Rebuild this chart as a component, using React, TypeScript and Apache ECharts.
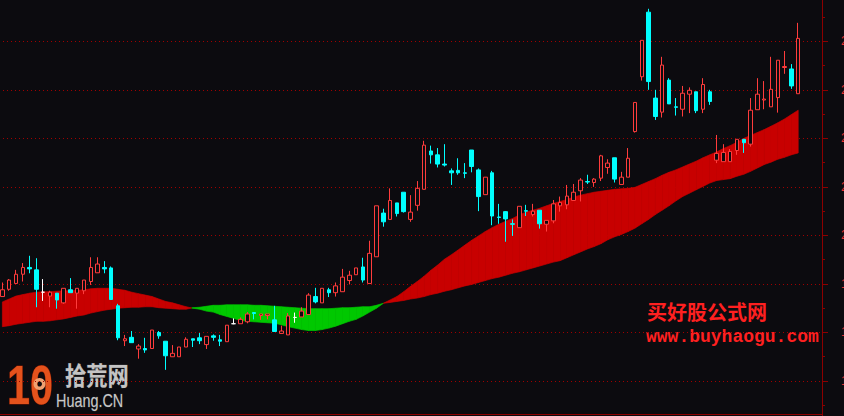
import React, { useEffect, useRef } from "react";
import * as echarts from "echarts";

const BG = "#0c0b0f";
const UP = "#ff3c3c";
const DOWN = "#00ffff";
const BAND_UP = "#c80000";
const BAND_DOWN = "#00c800";
const AXIS = "#8c0000";
const GRID = "#a00000";
const LABEL = "#e83030";

// trading sessions (118 drawn + 3 empty slots on the right)
const sessions: string[] = Array.from({ length: 121 }, (_, i) => `T${i + 1}`);

// price axis
const yMin = 16;
const yMax = 25;
const yStep = 1;

// [open, close, low, high]
const ohlc: number[][] = [
  [18.74, 18.88, 18.74, 19.03], [18.89, 19.08, 18.86, 19.10], [19.01, 19.20, 19.01, 19.29], [19.20, 19.34, 19.05, 19.43],
  [19.34, 19.31, 19.22, 19.58], [19.29, 18.89, 18.52, 19.53], [18.83, 18.83, 18.65, 19.10], [18.75, 18.83, 18.52, 18.86],
  [18.81, 18.67, 18.49, 18.81], [18.61, 18.91, 18.59, 18.91], [18.88, 18.82, 18.82, 19.12], [18.81, 18.91, 18.49, 18.91],
  [18.86, 19.08, 18.79, 19.08], [19.05, 19.34, 18.98, 19.55], [19.23, 19.41, 19.23, 19.55], [19.34, 19.31, 19.22, 19.47],
  [19.33, 18.68, 18.68, 19.36], [18.55, 17.89, 17.84, 18.59], [17.83, 17.87, 17.72, 17.95], [17.90, 17.79, 17.79, 18.03],
  [17.66, 17.72, 17.46, 17.76], [17.67, 17.64, 17.58, 17.89], [17.67, 18.05, 17.67, 18.05], [18.00, 17.93, 17.87, 18.03],
  [17.82, 17.52, 17.23, 17.82], [17.50, 17.57, 17.50, 17.74], [17.50, 17.70, 17.50, 17.70], [17.70, 17.86, 17.70, 17.90],
  [17.87, 17.84, 17.70, 17.87], [17.89, 17.83, 17.76, 17.99], [17.75, 17.92, 17.66, 17.92], [17.93, 17.90, 17.83, 17.96],
  [17.85, 17.82, 17.72, 17.95], [17.81, 18.15, 17.81, 18.15], [18.18, 18.18, 18.17, 18.29], [18.18, 18.27, 18.18, 18.31],
  [18.22, 18.38, 18.19, 18.42], [18.41, 18.39, 18.27, 18.42], [18.35, 18.38, 18.26, 18.38], [18.35, 18.38, 18.27, 18.38],
  [18.26, 18.02, 18.02, 18.55], [17.98, 18.03, 17.98, 18.14], [17.95, 18.34, 17.95, 18.40], [18.31, 18.31, 18.20, 18.41],
  [18.32, 18.44, 18.32, 18.52], [18.37, 18.77, 18.37, 18.81], [18.74, 18.63, 18.60, 18.92], [18.61, 18.91, 18.61, 18.91],
  [18.88, 18.82, 18.73, 18.92], [18.82, 18.96, 18.74, 19.03], [18.84, 19.14, 18.84, 19.31], [19.07, 19.18, 18.99, 19.27],
  [19.19, 19.33, 19.19, 19.33], [19.35, 19.08, 19.03, 19.54], [19.01, 19.63, 19.01, 19.89], [19.56, 20.61, 19.56, 20.61],
  [20.46, 20.28, 20.18, 20.55], [20.33, 20.72, 20.33, 20.97], [20.67, 20.45, 20.39, 20.67], [20.89, 20.49, 20.47, 20.89],
  [20.33, 20.48, 20.28, 20.83], [20.62, 20.97, 20.51, 21.12], [20.95, 21.86, 20.95, 21.95], [21.74, 21.66, 21.48, 21.85],
  [21.66, 21.47, 21.40, 21.80], [21.47, 21.45, 21.42, 21.88], [21.33, 21.29, 21.04, 21.38], [21.34, 21.29, 21.25, 21.59],
  [21.29, 21.28, 21.18, 21.49], [21.76, 21.42, 21.30, 21.76], [21.35, 20.80, 20.50, 21.38], [20.84, 21.20, 20.84, 21.20],
  [21.29, 20.40, 20.21, 21.33], [20.38, 20.37, 20.24, 20.65], [20.49, 20.34, 19.87, 20.50], [20.24, 20.23, 19.99, 20.33],
  [20.16, 20.60, 20.16, 20.60], [20.51, 20.50, 20.40, 20.63], [20.43, 20.50, 20.39, 20.65], [20.52, 20.24, 20.14, 20.52],
  [20.23, 20.31, 20.08, 20.31], [20.30, 20.65, 20.25, 20.73], [20.61, 20.68, 20.49, 20.80], [20.63, 20.81, 20.54, 21.04],
  [20.72, 20.89, 20.72, 21.06], [20.92, 21.14, 20.70, 21.18], [21.11, 21.10, 21.06, 21.25], [21.09, 21.16, 21.00, 21.18],
  [21.18, 21.64, 21.12, 21.66], [21.40, 21.49, 21.27, 21.57], [21.60, 21.16, 21.09, 21.60], [21.05, 21.20, 21.05, 21.31],
  [21.20, 21.59, 21.20, 21.80], [22.14, 22.74, 22.12, 22.74], [23.27, 24.02, 23.19, 24.02], [24.60, 23.17, 23.00, 24.67],
  [22.83, 22.45, 22.38, 23.00], [22.54, 23.51, 22.43, 23.68], [23.20, 22.71, 22.71, 23.24], [22.65, 22.64, 22.47, 22.83],
  [22.60, 22.93, 22.45, 23.08], [22.91, 22.99, 22.52, 23.05], [22.96, 22.57, 22.52, 22.96], [22.60, 23.11, 22.52, 23.24],
  [22.96, 22.76, 22.69, 23.00], [21.55, 21.69, 21.49, 22.07], [21.52, 21.71, 21.52, 21.88], [21.52, 21.73, 21.52, 21.78],
  [21.75, 21.98, 21.66, 21.98], [21.98, 21.91, 21.70, 21.98], [21.88, 22.58, 21.83, 22.83], [22.59, 22.91, 22.59, 23.24],
  [22.79, 22.81, 22.60, 23.18], [22.65, 23.01, 22.65, 23.68], [22.84, 23.61, 22.53, 23.61], [23.46, 23.48, 23.33, 23.80],
  [23.43, 23.08, 23.02, 23.53], [22.92, 24.06, 22.92, 24.38],
];

// sessions drawn as white crosses (open == close)
const whiteDoji: number[] = [6, 34, 43];

// fast moving average (band edge)
const fastMA: number[] = [
  18.63, 18.69, 18.75, 18.78, 18.81, 18.83, 18.84, 18.84, 18.85, 18.86,
  18.86, 18.87, 18.88, 18.90, 18.91, 18.91, 18.91, 18.89, 18.87, 18.83,
  18.80, 18.77, 18.74, 18.69, 18.64, 18.61, 18.57, 18.53, 18.50, 18.48,
  18.44, 18.42, 18.37, 18.33, 18.29, 18.25, 18.23, 18.22, 18.21, 18.20,
  18.19, 18.16, 18.12, 18.09, 18.06, 18.04, 18.04, 18.06, 18.09, 18.13,
  18.18, 18.23, 18.27, 18.34, 18.42, 18.50, 18.60, 18.67, 18.74, 18.84,
  18.95, 19.05, 19.16, 19.28, 19.39, 19.51, 19.60, 19.70, 19.80, 19.90,
  19.99, 20.08, 20.16, 20.23, 20.29, 20.35, 20.42, 20.48, 20.52, 20.56,
  20.61, 20.66, 20.70, 20.74, 20.79, 20.83, 20.86, 20.89, 20.91, 20.93,
  20.95, 20.96, 20.97, 20.99, 21.05, 21.11, 21.17, 21.24, 21.30, 21.35,
  21.41, 21.47, 21.53, 21.60, 21.66, 21.72, 21.79, 21.85, 21.92, 22.00,
  22.06, 22.12, 22.18, 22.25, 22.32, 22.40, 22.49, 22.58,
];

// slow moving average (band edge)
const slowMA: number[] = [
  18.12, 18.14, 18.17, 18.19, 18.21, 18.23, 18.23, 18.24, 18.26, 18.28,
  18.31, 18.34, 18.36, 18.40, 18.43, 18.46, 18.48, 18.50, 18.51, 18.52,
  18.52, 18.53, 18.53, 18.51, 18.50, 18.49, 18.48, 18.48, 18.51, 18.52,
  18.54, 18.56, 18.56, 18.57, 18.57, 18.57, 18.57, 18.56, 18.56, 18.55,
  18.54, 18.53, 18.52, 18.51, 18.50, 18.49, 18.49, 18.49, 18.49, 18.50,
  18.51, 18.51, 18.52, 18.53, 18.53, 18.56, 18.60, 18.62, 18.64, 18.66,
  18.69, 18.71, 18.74, 18.78, 18.81, 18.85, 18.88, 18.92, 18.96, 18.99,
  19.03, 19.07, 19.11, 19.14, 19.18, 19.22, 19.25, 19.29, 19.33, 19.37,
  19.41, 19.45, 19.48, 19.54, 19.60, 19.66, 19.72, 19.77, 19.83, 19.91,
  19.97, 20.02, 20.08, 20.15, 20.24, 20.33, 20.43, 20.52, 20.61, 20.71,
  20.80, 20.87, 20.94, 21.01, 21.08, 21.13, 21.15, 21.17, 21.22, 21.26,
  21.32, 21.39, 21.46, 21.51, 21.57, 21.61, 21.66, 21.70,
];

export default function App() {
  const ref = useRef<HTMLDivElement>(null);

  useEffect(() => {
    document.body.style.margin = "0";
    document.body.style.background = BG;
    if (!ref.current) return;
    const chart = echarts.init(ref.current, null, { renderer: "svg", width: 844, height: 416 });

    const candleData = ohlc.map((v, i) =>
      whiteDoji.includes(i)
        ? {
            value: v,
            itemStyle: {
              color: "#ffffff",
              color0: "#ffffff",
              borderColor: "#ffffff",
              borderColor0: "#ffffff",
              borderColorDoji: "#ffffff",
            },
          }
        : v
    );

    const bandData = fastMA.map((f, i) => [i, f, slowMA[i]]);

    const poly = (pts: number[][], color: string) => ({
      type: "polygon",
      shape: { points: pts },
      style: { fill: color, stroke: color, lineWidth: 0.7 },
    });

    const option: any = {
      backgroundColor: BG,
      animation: false,
      grid: { left: -1, right: 22, top: -7.23, bottom: -13.53, containLabel: false, outerBoundsMode: "none" },
      xAxis: {
        type: "category",
        data: sessions,
        boundaryGap: true,
        show: false,
      },
      yAxis: {
        type: "value",
        position: "right",
        min: yMin,
        max: yMax,
        interval: yStep,
        axisLine: { show: true, lineStyle: { color: AXIS, width: 1 } },
        axisTick: { show: true, length: 6, lineStyle: { color: AXIS } },
        minorTick: { show: true, splitNumber: 2, length: 3, lineStyle: { color: AXIS } },
        splitLine: { show: true, lineStyle: { color: GRID, width: 1, type: [1, 3] } },
        minorSplitLine: { show: false },
        axisLabel: {
          color: LABEL,
          fontSize: 12,
          fontFamily: "Liberation Sans",
          margin: 19,
          showMinLabel: false,
          showMaxLabel: false,
          formatter: (v: number) => v.toFixed(2),
        },
      },
      series: [
        {
          type: "custom",
          name: "band",
          z: 1,
          data: bandData,
          encode: { x: 0, y: [1, 2] },
          renderItem: (params: any, api: any) => {
            const i = api.value(0) as number;
            if (i >= fastMA.length - 1) return null;
            const f0 = fastMA[i], s0 = slowMA[i], f1 = fastMA[i + 1], s1 = slowMA[i + 1];
            const a = api.coord([i, f0]);
            const b = api.coord([i + 1, f1]);
            const c = api.coord([i + 1, s1]);
            const d = api.coord([i, s0]);
            const d0 = f0 - s0, d1 = f1 - s1;
            if (d0 * d1 >= 0) {
              return poly([a, b, c, d], d0 + d1 >= 0 ? BAND_UP : BAND_DOWN);
            }
            const t = d0 / (d0 - d1);
            const p = [a[0] + t * (b[0] - a[0]), a[1] + t * (b[1] - a[1])];
            return {
              type: "group",
              children: [
                poly([a, p, d], d0 >= 0 ? BAND_UP : BAND_DOWN),
                poly([p, b, c], d1 >= 0 ? BAND_UP : BAND_DOWN),
              ],
            };
          },
        },
        {
          type: "candlestick",
          name: "price",
          z: 3,
          barWidth: 4,
          data: candleData,
          itemStyle: {
            color: BG,
            color0: DOWN,
            borderColor: UP,
            borderColor0: DOWN,
            borderColorDoji: "#ffffff",
            borderWidth: 1,
          },
        },
      ],
      graphic: [
        {
          type: "line",
          silent: true,
          shape: { x1: 0, y1: 414.5, x2: 822, y2: 414.5 },
          style: { stroke: AXIS, lineWidth: 1 },
        },
        {
          type: "text",
          x: 647,
          y: 301,
          style: {
            text: "买好股公式网",
            fill: "#ff2020",
            font: 'bold 20px "Noto Sans CJK SC"',
            verticalAlign: "top",
          },
        },
        {
          type: "text",
          x: 646,
          y: 328,
          style: {
            text: "www.buyhaogu.com",
            fill: "#ff2020",
            font: 'bold 18px "Liberation Mono"',
            verticalAlign: "top",
          },
        },
        {
          type: "text",
          x: 7,
          y: 384,
          scaleX: 0.74,
          style: {
            text: "10",
            fill: "#e4521c",
            stroke: "#7a1800",
            lineWidth: 1,
            font: 'bold 56px "Liberation Sans"',
            verticalAlign: "middle",
          },
        },
        {
          type: "ring",
          shape: { cx: 39.5, cy: 384, r: 6, r0: 2.5 },
          style: { fill: "#f0a070" },
        },
        {
          type: "text",
          x: 65,
          y: 362,
          scaleX: 0.85,
          style: {
            text: "拾荒网",
            fill: "#c4c4c4",
            stroke: "#5a5a5a",
            lineWidth: 0.5,
            font: 'bold 25px "Noto Sans CJK SC"',
            verticalAlign: "top",
          },
        },
        {
          type: "text",
          x: 56,
          y: 391,
          scaleX: 0.8,
          style: {
            text: "Huang.CN",
            fill: "#c8c8c8",
            stroke: "#505050",
            lineWidth: 0.5,
            font: '18px "Liberation Sans"',
            verticalAlign: "top",
          },
        },
      ],
    };

    chart.setOption(option);
    return () => chart.dispose();
  }, []);

  return <div ref={ref} style={{ position: "fixed", left: 0, top: 0, width: 844, height: 416 }} />;
}
